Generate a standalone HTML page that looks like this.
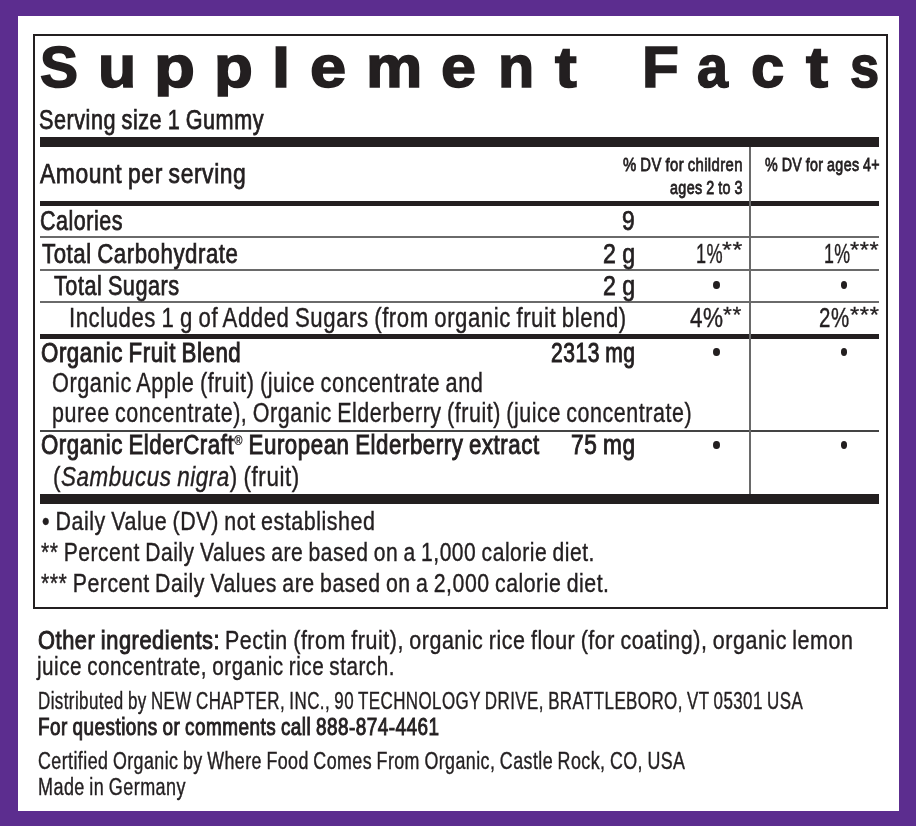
<!DOCTYPE html>
<html><head><meta charset="utf-8"><title>Supplement Facts</title><style>
*{margin:0;padding:0;box-sizing:border-box}
html,body{width:916px;height:826px;overflow:hidden;background:#5c2d8f}
body{position:relative;font-family:"Liberation Sans",Arial,sans-serif;color:#231f20}
.pg{position:absolute;left:18px;top:16px;width:881px;height:795px;background:#fff}
.box{position:absolute;left:32.5px;top:33.8px;width:855.2px;height:574.8px;border:2.4px solid #231f20}
.rl{position:absolute;background:#231f20}
.tl{position:absolute;background:#6a6a6a}
.tl2{position:absolute;background:#444}
.t{position:absolute;white-space:nowrap;transform-origin:0 0;line-height:1;word-spacing:-0.05em;letter-spacing:0.025em}
.m{font-weight:400;-webkit-text-stroke:0.75px #231f20}
.h{font-weight:400;-webkit-text-stroke:0.8px #231f20}
.r{font-weight:400;-webkit-text-stroke:0.4px #231f20}
.a{font-weight:400;-webkit-text-stroke:0.3px #231f20}
.b{font-weight:700}
.sb{font-weight:400;-webkit-text-stroke:0.95px #231f20}
.sb sup{-webkit-text-stroke:0.3px #231f20}
.r b{-webkit-text-stroke:0}
.st{font-size:0.62em;vertical-align:0.42em}
sup{font-size:0.5em;vertical-align:0.68em;font-weight:400}
.bu{position:absolute;width:6.6px;height:8px;border-radius:50%;background:#231f20}
.ti{position:absolute;font-weight:700;line-height:1;transform-origin:0 0;white-space:nowrap;-webkit-text-stroke:1.6px #231f20}
</style></head><body>
<div class="pg"></div>
<div class="box"></div>
<div class="rl" style="left:40px;top:137px;width:839px;height:10px"></div>
<div class="rl" style="left:40px;top:201.3px;width:839px;height:4.7px"></div>
<div class="tl" style="left:40px;top:236px;width:839px;height:2px"></div>
<div class="tl" style="left:40px;top:268.5px;width:839px;height:2px"></div>
<div class="tl" style="left:40px;top:301px;width:839px;height:2px"></div>
<div class="rl" style="left:40px;top:334px;width:839px;height:4.5px"></div>
<div class="tl2" style="left:40px;top:429.6px;width:839px;height:2px"></div>
<div class="rl" style="left:40px;top:494px;width:839px;height:9.5px"></div>
<div class="tl" style="left:748.5px;top:147px;width:2px;height:347px"></div>
<div class="ti" id="ti0" style="left:40.04px;top:39.00px;font-size:57.5px;transform:scaleX(0.9911)">S</div>
<div class="ti" id="ti1" style="left:97.85px;top:37.00px;font-size:59.5px;transform:scaleX(1.0532)">u</div>
<div class="ti" id="ti2" style="left:154.06px;top:37.00px;font-size:59.5px;transform:scaleX(1.1267);clip-path:inset(0 0 -0.30px 0)">p</div>
<div class="ti" id="ti3" style="left:214.30px;top:37.00px;font-size:59.5px;transform:scaleX(1.0697);clip-path:inset(0 0 -0.30px 0)">p</div>
<div class="ti" id="ti4" style="left:272.48px;top:41.00px;font-size:55px;transform:scaleX(1.1847)">l</div>
<div class="ti" id="ti5" style="left:309.81px;top:37.00px;font-size:59.5px;transform:scaleX(1.0941)">e</div>
<div class="ti" id="ti6" style="left:366.29px;top:37.00px;font-size:59.5px;transform:scaleX(1.0642)">m</div>
<div class="ti" id="ti7" style="left:441.45px;top:37.00px;font-size:59.5px;transform:scaleX(1.0543)">e</div>
<div class="ti" id="ti8" style="left:497.52px;top:37.00px;font-size:59.5px;transform:scaleX(0.9973)">n</div>
<div class="ti" id="ti9" style="left:555.00px;top:38.00px;font-size:58px;transform:scaleX(1.1245)">t</div>
<div class="ti" id="ti10" style="left:642.35px;top:39.00px;font-size:57.5px;transform:scaleX(1.0479)">F</div>
<div class="ti" id="ti11" style="left:696.56px;top:37.00px;font-size:59.5px;transform:scaleX(0.9345)">a</div>
<div class="ti" id="ti12" style="left:751.48px;top:37.00px;font-size:59.5px;transform:scaleX(1.0043)">c</div>
<div class="ti" id="ti13" style="left:806.02px;top:38.00px;font-size:58px;transform:scaleX(1.1386)">t</div>
<div class="ti" id="ti14" style="left:850.17px;top:37.00px;font-size:59.5px;transform:scaleX(0.8813)">s</div>
<div class="t m" id="serv" style="left:39.32px;top:107.00px;font-size:27px;transform:scaleX(0.8008)">Serving size 1 Gummy</div>
<div class="t m" id="amt" style="left:40.48px;top:161.00px;font-size:27px;transform:scaleX(0.8473)">Amount per serving</div>
<div class="t h" id="h1" style="left:623.48px;top:155.00px;font-size:19px;transform:scaleX(0.7827)">% DV for children</div>
<div class="t h" id="h2" style="left:669.67px;top:178.00px;font-size:19px;transform:scaleX(0.7553)">ages 2 to 3</div>
<div class="t h" id="h3" style="left:764.68px;top:155.00px;font-size:19px;transform:scaleX(0.7505)">% DV for ages 4+</div>
<div class="t m" id="cal" style="left:40.20px;top:208.00px;font-size:27px;transform:scaleX(0.7958)">Calories</div>
<div class="t m" id="cal9" style="left:622.16px;top:208.00px;font-size:27px;transform:scaleX(0.8439)">9</div>
<div class="t m" id="carb" style="left:42.04px;top:241.00px;font-size:27px;transform:scaleX(0.8222)">Total Carbohydrate</div>
<div class="t m" id="carbg" style="left:603.08px;top:241.00px;font-size:27px;transform:scaleX(0.8567)">2 g</div>
<div class="t r" id="carbp1" style="left:695.66px;top:241.00px;font-size:27px;transform:scaleX(0.6710)">1%</div>
<div class="t a" id="carbs1" style="left:721.88px;top:239.18px;font-size:22px;transform:scaleX(1.1457)">**</div>
<div class="t r" id="carbp2" style="left:823.61px;top:241.00px;font-size:27px;transform:scaleX(0.6590)">1%</div>
<div class="t a" id="carbs2" style="left:850.47px;top:239.18px;font-size:22px;transform:scaleX(1.0697)">***</div>
<div class="t m" id="sug" style="left:53.52px;top:273.00px;font-size:27px;transform:scaleX(0.8016)">Total Sugars</div>
<div class="t m" id="sugg" style="left:603.08px;top:273.00px;font-size:27px;transform:scaleX(0.8567)">2 g</div>
<div class="t r" id="inc" style="left:69.39px;top:305.00px;font-size:27px;transform:scaleX(0.8210)">Includes 1 g of Added Sugars (from organic fruit blend)</div>
<div class="t r" id="incp1" style="left:689.62px;top:305.00px;font-size:27px;transform:scaleX(0.8350)">4%</div>
<div class="t a" id="incs1" style="left:722.97px;top:304.18px;font-size:22px;transform:scaleX(1.0304)">**</div>
<div class="t r" id="incp2" style="left:819.39px;top:305.00px;font-size:27px;transform:scaleX(0.7580)">2%</div>
<div class="t a" id="incs2" style="left:850.38px;top:303.58px;font-size:22px;transform:scaleX(1.0772)">***</div>
<div class="t sb" id="ofb" style="left:40.65px;top:340.00px;font-size:27px;transform:scaleX(0.8251)">Organic Fruit Blend</div>
<div class="t sb" id="ofbmg" style="left:550.65px;top:340.00px;font-size:27px;transform:scaleX(0.7797)">2313 mg</div>
<div class="t r" id="oa1" style="left:51.72px;top:370.00px;font-size:27px;transform:scaleX(0.8047)">Organic Apple (fruit) (juice concentrate and</div>
<div class="t r" id="oa2" style="left:52.36px;top:400.00px;font-size:27px;transform:scaleX(0.7954)">puree concentrate), Organic Elderberry (fruit) (juice concentrate)</div>
<div class="t sb" id="oe" style="left:40.66px;top:432.00px;font-size:27px;transform:scaleX(0.8242)">Organic ElderCraft<sup>&reg;</sup> European Elderberry extract</div>
<div class="t sb" id="oemg" style="left:571.18px;top:432.00px;font-size:27px;transform:scaleX(0.8378)">75 mg</div>
<div class="t r" id="sn" style="left:52.77px;top:464.00px;font-size:27px;transform:scaleX(0.8307)">(<i>Sambucus nigra</i>) (fruit)</div>
<div class="t r" id="f1" style="left:42.07px;top:509.00px;font-size:25px;transform:scaleX(0.8578)">&bull; Daily Value (DV) not established</div>
<div class="t r" id="f2" style="left:41.12px;top:540.00px;font-size:25px;transform:scaleX(0.8414)">** Percent Daily Values are based on a 1,000 calorie diet.</div>
<div class="t r" id="f3" style="left:41.11px;top:571.00px;font-size:25px;transform:scaleX(0.8501)">*** Percent Daily Values are based on a 2,000 calorie diet.</div>
<div class="t sb" id="o1a" style="left:37.62px;top:628.00px;font-size:25px;transform:scaleX(0.8728)">Other ingredients:</div>
<div class="t r" id="o1b" style="left:224.79px;top:628.00px;font-size:25px;transform:scaleX(0.8574)">Pectin (from fruit), organic rice flour (for coating), organic lemon</div>
<div class="t r" id="o2" style="left:37.34px;top:654.00px;font-size:25px;transform:scaleX(0.8257)">juice concentrate, organic rice starch.</div>
<div class="t r" id="d1" style="left:37.97px;top:690.00px;font-size:23px;transform:scaleX(0.7366)">Distributed by NEW CHAPTER, INC., 90 TECHNOLOGY DRIVE, BRATTLEBORO, VT 05301 USA</div>
<div class="t sb" id="d2" style="left:37.74px;top:716.00px;font-size:23px;transform:scaleX(0.8223)">For questions or comments call 888-874-4461</div>
<div class="t r" id="c1" style="left:37.69px;top:750.00px;font-size:23px;transform:scaleX(0.7751)">Certified Organic by Where Food Comes From Organic, Castle Rock, CO, USA</div>
<div class="t r" id="c2" style="left:37.79px;top:776.00px;font-size:23px;transform:scaleX(0.7825)">Made in Germany</div>
<div class="bu" style="left:713.1px;top:280.7px"></div>
<div class="bu" style="left:840.6px;top:280.7px"></div>
<div class="bu" style="left:713.0px;top:348.0px"></div>
<div class="bu" style="left:840.7px;top:348.0px"></div>
<div class="bu" style="left:713.0px;top:440.7px"></div>
<div class="bu" style="left:840.7px;top:440.7px"></div>
</body></html>
